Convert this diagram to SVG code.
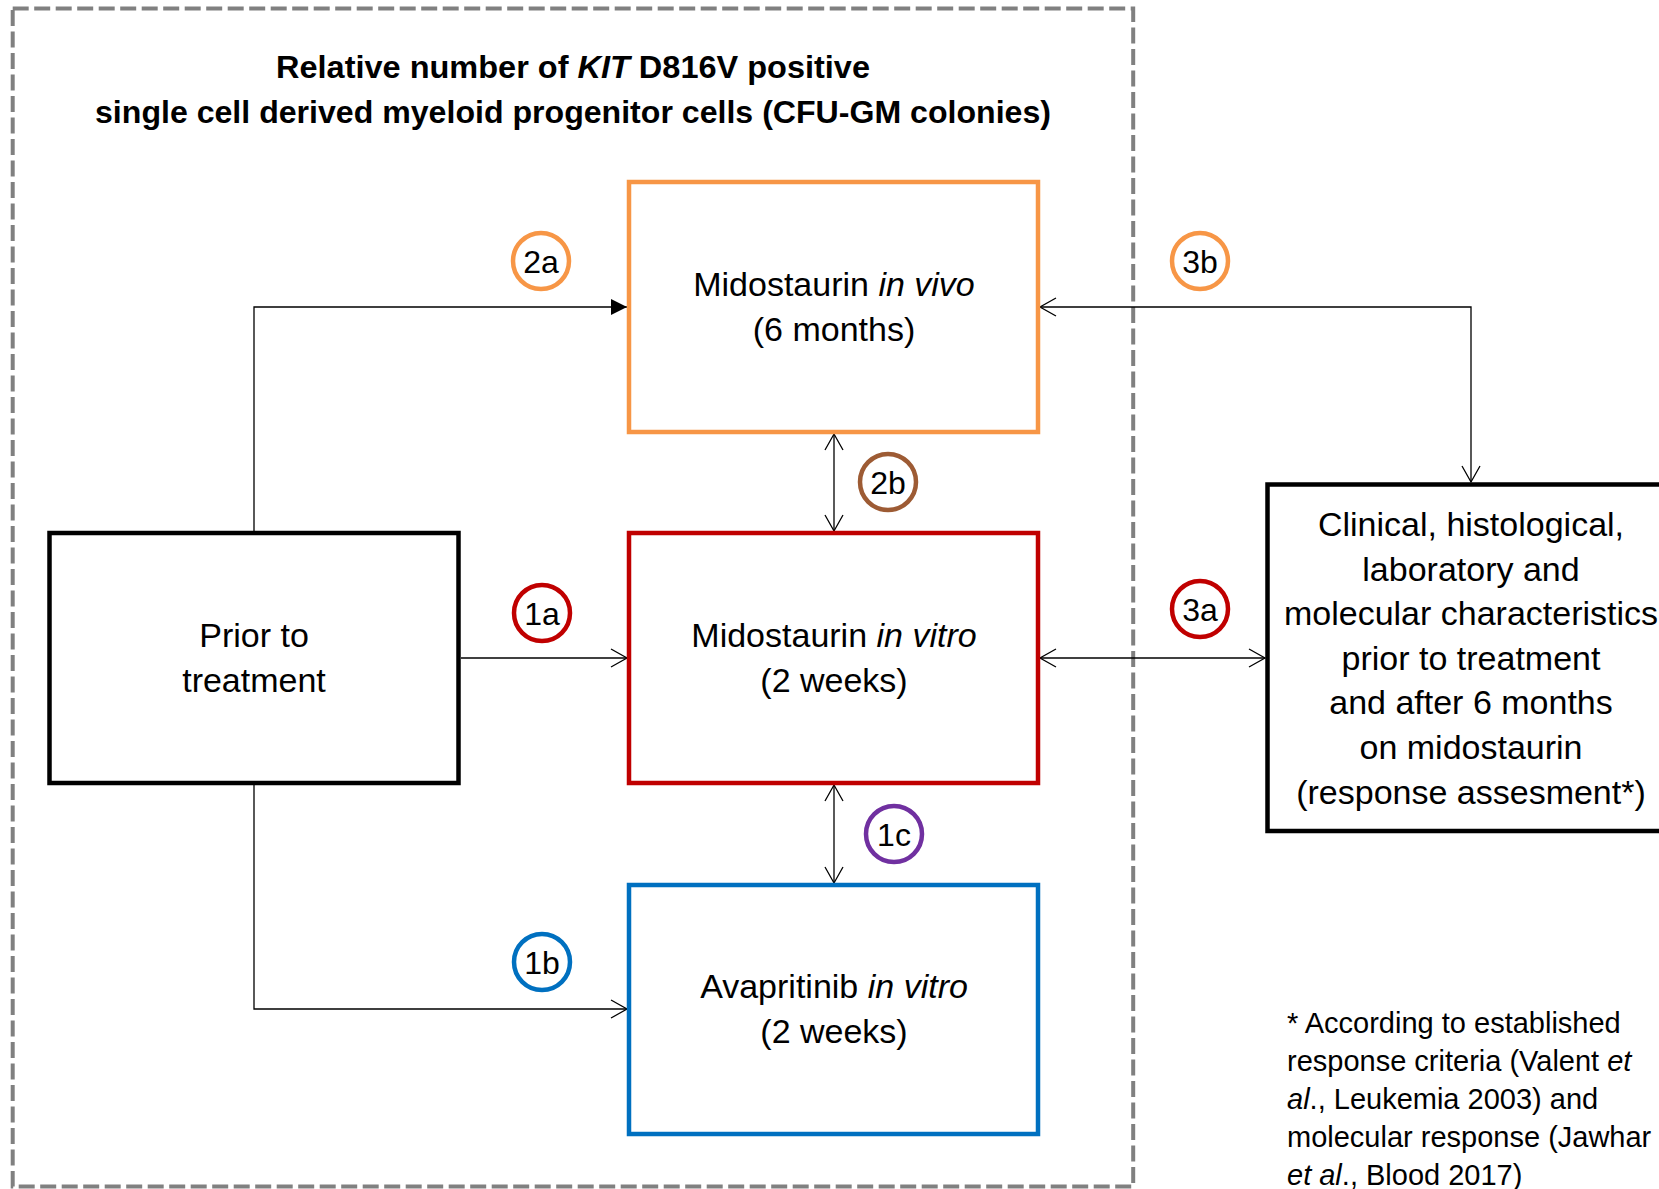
<svg xmlns="http://www.w3.org/2000/svg" width="1659" height="1189" viewBox="0 0 1659 1189">
<defs>
<style>
text{font-family:"Liberation Sans",Arial,sans-serif;fill:#000}
.t{font-size:34px;text-anchor:middle}
.title{font-size:31px;font-weight:bold;text-anchor:middle}
.lab{font-size:32px;text-anchor:middle}
.fn{font-size:29px}
.box{fill:#fff;stroke-width:4.5}
.badge{fill:#fff;stroke-width:4.5}
.conn{fill:none;stroke:#000;stroke-width:1.3}
</style>
<marker id="open" viewBox="0 0 20 20" refX="17" refY="10" markerWidth="20" markerHeight="20" markerUnits="userSpaceOnUse" orient="auto-start-reverse">
<path d="M1,1 L17,10 L1,19" fill="none" stroke="#000" stroke-width="1.3"/>
</marker>
<marker id="filled" viewBox="0 0 20 20" refX="16" refY="10" markerWidth="20" markerHeight="20" markerUnits="userSpaceOnUse" orient="auto">
<path d="M0,2 L16,10 L0,18 Z" fill="#000"/>
</marker>
</defs>
<rect width="1659" height="1189" fill="#fff"/>

<g id="frame">
<rect x="12.7" y="8.5" width="1120.5" height="1178" fill="none" stroke="#808080" stroke-width="4" stroke-dasharray="16 5.5"/>
<text class="title" x="573" y="78" textLength="594" lengthAdjust="spacingAndGlyphs">Relative number of <tspan font-style="italic">KIT</tspan> D816V positive</text>
<text class="title" x="573" y="122.5" textLength="956" lengthAdjust="spacingAndGlyphs">single cell derived myeloid progenitor cells (CFU-GM colonies)</text>
</g>

<g id="connectors">
<path class="conn" d="M254,533 V307 H627" marker-end="url(#filled)"/>
<path class="conn" d="M461,658 H627" marker-end="url(#open)"/>
<path class="conn" d="M254,783 V1009 H627" marker-end="url(#open)"/>
<path class="conn" d="M834,434 V531" marker-start="url(#open)" marker-end="url(#open)"/>
<path class="conn" d="M834,785 V883" marker-start="url(#open)" marker-end="url(#open)"/>
<path class="conn" d="M1040,658 H1265" marker-start="url(#open)" marker-end="url(#open)"/>
<path class="conn" d="M1471,482 V307 H1040" marker-start="url(#open)" marker-end="url(#open)"/>
</g>

<g id="node-prior">
<rect class="box" x="49.5" y="533" width="409" height="250" stroke="#000" stroke-width="5"/>
<text class="t" x="254" y="647"><tspan x="254">Prior to</tspan><tspan x="254" dy="45">treatment</tspan></text>
</g>

<g id="node-mido-vivo">
<rect class="box" x="629" y="182" width="409" height="250" stroke="#F79646"/>
<text class="t" x="834" y="296"><tspan x="834">Midostaurin <tspan font-style="italic">in vivo</tspan></tspan><tspan x="834" dy="45">(6 months)</tspan></text>
</g>

<g id="node-mido-vitro">
<rect class="box" x="629" y="533" width="409" height="250" stroke="#C00000"/>
<text class="t" x="834" y="647"><tspan x="834">Midostaurin <tspan font-style="italic">in vitro</tspan></tspan><tspan x="834" dy="45">(2 weeks)</tspan></text>
</g>

<g id="node-avapritinib">
<rect class="box" x="629" y="885" width="409" height="249" stroke="#0070C0"/>
<text class="t" x="834" y="998"><tspan x="834">Avapritinib <tspan font-style="italic">in vitro</tspan></tspan><tspan x="834" dy="45">(2 weeks)</tspan></text>
</g>

<g id="node-clinical">
<rect class="box" x="1267.5" y="484.5" width="410" height="346.5" stroke="#000" stroke-width="5"/>
<text class="t" x="1471" y="536"><tspan x="1471">Clinical, histological,</tspan><tspan x="1471" dy="44.6">laboratory and</tspan><tspan x="1471" dy="44.6">molecular characteristics</tspan><tspan x="1471" dy="44.6">prior to treatment</tspan><tspan x="1471" dy="44.6">and after 6 months</tspan><tspan x="1471" dy="44.6">on midostaurin</tspan><tspan x="1471" dy="44.6">(response assesment*)</tspan></text>
</g>

<g id="badge-2a"><circle class="badge" cx="541" cy="261" r="28" stroke="#F79646"/><text class="lab" x="541" y="273">2a</text></g>
<g id="badge-3b"><circle class="badge" cx="1200" cy="261" r="28" stroke="#F79646"/><text class="lab" x="1200" y="273">3b</text></g>
<g id="badge-2b"><circle class="badge" cx="888" cy="482" r="28" stroke="#9D5B34"/><text class="lab" x="888" y="494">2b</text></g>
<g id="badge-1a"><circle class="badge" cx="542" cy="613" r="28" stroke="#C00000"/><text class="lab" x="542" y="625">1a</text></g>
<g id="badge-3a"><circle class="badge" cx="1200" cy="609" r="28" stroke="#C00000"/><text class="lab" x="1200" y="621">3a</text></g>
<g id="badge-1c"><circle class="badge" cx="894" cy="834" r="28" stroke="#7030A0"/><text class="lab" x="894" y="846">1c</text></g>
<g id="badge-1b"><circle class="badge" cx="542" cy="962" r="28" stroke="#0070C0"/><text class="lab" x="542" y="974">1b</text></g>

<g id="footnote">
<text class="fn" x="1287" y="1033">* According to established</text>
<text class="fn" x="1287" y="1071">response criteria (Valent <tspan font-style="italic">et</tspan></text>
<text class="fn" x="1287" y="1109"><tspan font-style="italic">al</tspan>., Leukemia 2003) and</text>
<text class="fn" x="1287" y="1147">molecular response (Jawhar</text>
<text class="fn" x="1287" y="1185"><tspan font-style="italic">et al</tspan>., Blood 2017)</text>
</g>
</svg>
